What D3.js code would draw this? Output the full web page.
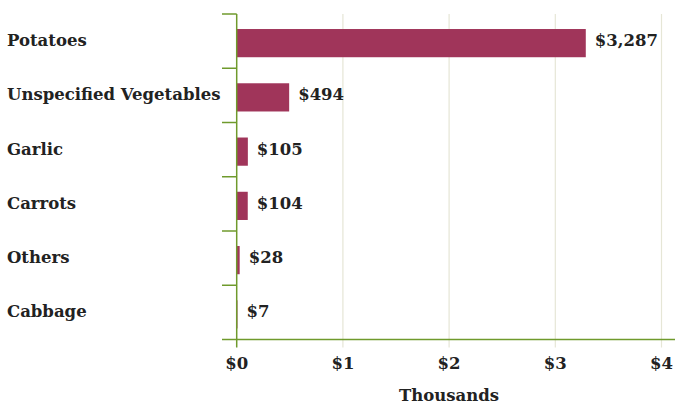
<!DOCTYPE html>
<html><head><meta charset="utf-8">
<script src="https://cdn.jsdelivr.net/npm/d3@7"></script>
<style>body{margin:0;background:#fff}text{font-family:"DejaVu Serif",serif;font-weight:bold;fill:#222}</style>
</head><body><svg id="c" width="675" height="404"></svg>
<script>
const categories = ["Potatoes","Unspecified Vegetables","Garlic","Carrots","Others","Cabbage"];
const values = [3287,494,105,104,28,7];
const valueLabels = ["$3,287","$494","$105","$104","$28","$7"];
const xTicks = [0,1,2,3,4];
const xTickLabels = ["$0","$1","$2","$3","$4"];
const axisTitle = "Thousands";

const svg = d3.select("#c");
const mLeft = 236.7, mRight = 661.5, mTop = 14, mBottom = 339.5;
const x = d3.scaleLinear().domain([0,4]).range([mLeft,mRight]);
const y = d3.scaleBand().domain(categories).range([mTop+2,mBottom+2]).paddingInner(0.48).paddingOuter(0.24);
const yb = d3.scaleBand().domain(categories).range([mTop,mBottom]);
const green = "#6f9a2c";

svg.append("g").selectAll("line").data(xTicks.slice(1)).join("line")
  .attr("x1",d=>x(d)).attr("x2",d=>x(d)).attr("y1",mTop).attr("y2",mBottom+8)
  .attr("stroke","#e6e6d6").attr("stroke-width",1.2);

svg.append("g").selectAll("rect").data(values).join("rect")
  .attr("x",mLeft).attr("y",(d,i)=>y(categories[i])).attr("height",y.bandwidth())
  .attr("width",d=>x(d/1000)-mLeft).attr("fill","#a0355a");

svg.append("line").attr("x1",mLeft).attr("x2",mLeft).attr("y1",mTop).attr("y2",mBottom+8).attr("stroke",green).attr("stroke-width",1.5);
svg.append("g").selectAll("line").data(categories).join("line")
  .attr("x1",222).attr("x2",mLeft).attr("y1",d=>yb(d)).attr("y2",d=>yb(d)).attr("stroke",green).attr("stroke-width",1.5);
svg.append("line").attr("x1",222).attr("x2",675).attr("y1",mBottom).attr("y2",mBottom).attr("stroke",green).attr("stroke-width",1.5);

const fs = 16.5;
svg.append("g").selectAll("text").data(categories).join("text")
  .attr("x",7).attr("y",d=>yb(d)+yb.bandwidth()/2).attr("dy","0.3em").attr("font-size",fs).text(d=>d);

svg.append("g").selectAll("text").data(values).join("text")
  .attr("x",d=>x(d/1000)+9).attr("y",(d,i)=>yb(categories[i])+yb.bandwidth()/2).attr("dy","0.3em").attr("font-size",fs)
  .text((d,i)=>valueLabels[i]);

svg.append("g").selectAll("text").data(xTicks).join("text")
  .attr("x",d=>x(d)).attr("y",363).attr("dy","0.35em").attr("text-anchor","middle").attr("font-size",fs)
  .text((d,i)=>xTickLabels[i]);

svg.append("text").attr("x",(mLeft+mRight)/2).attr("y",395).attr("dy","0.35em").attr("text-anchor","middle").attr("font-size",fs).text(axisTitle);
</script></body></html>
